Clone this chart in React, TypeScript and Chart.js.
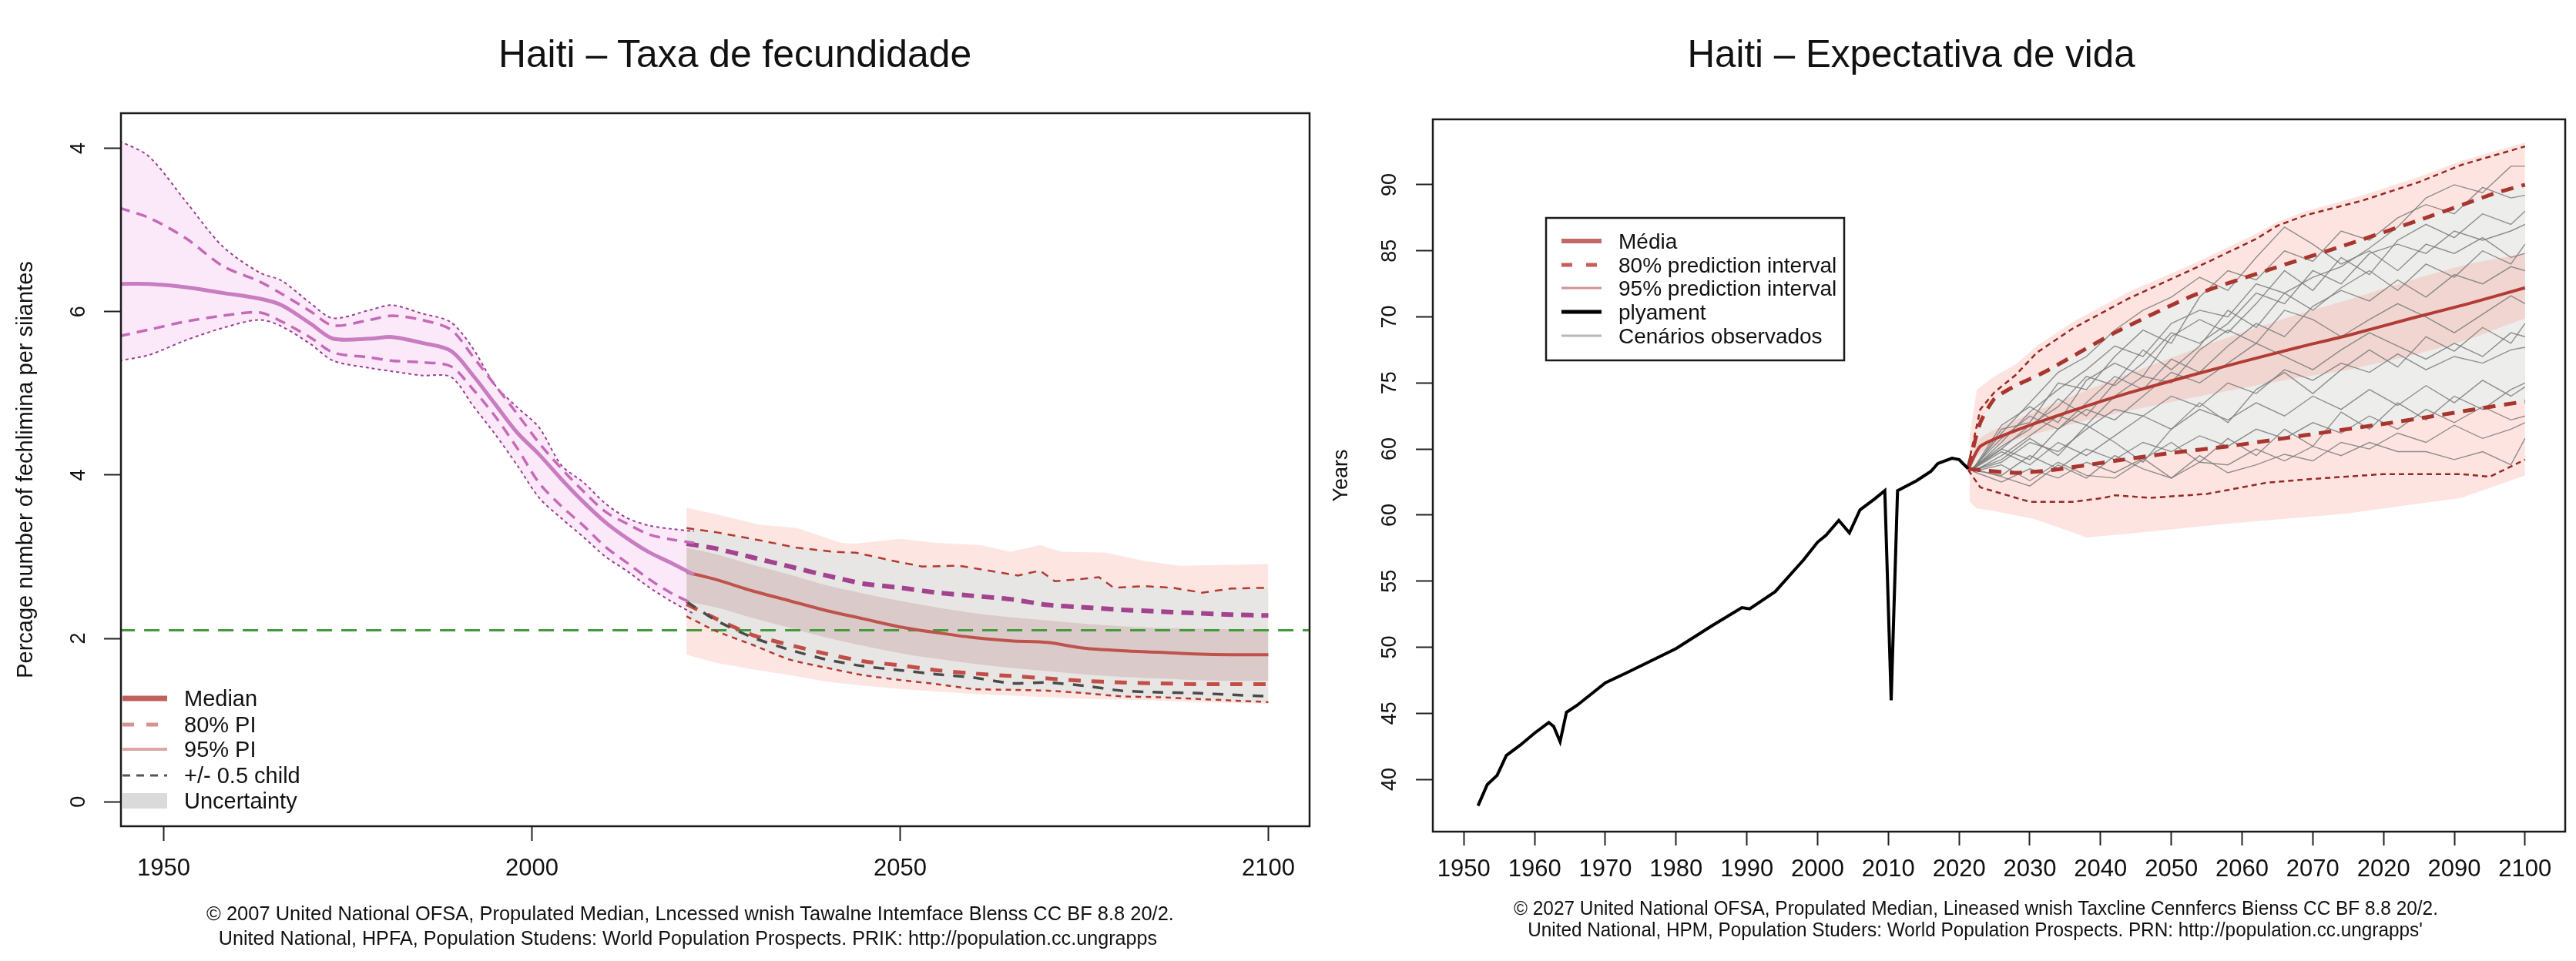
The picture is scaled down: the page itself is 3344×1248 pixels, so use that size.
import React, { useEffect, useLayoutEffect, useRef } from "react";
import { Chart, registerables } from "chart.js";

Chart.register(...registerables);

const FONT = "'Liberation Sans', Arial, Helvetica, sans-serif";

// ================= Left chart: fertility =================
const fertTitle = "Haiti – Taxa de fecundidade";
const fertYTitle = "Percage number of fechlimina per siiantes";
const fertXTicks = [1950, 2000, 2050, 2100];
const fertXTickLabels = ["1950", "2000", "2050", "2100"];
const fertYTicks = [0, 2, 4, 6, 8];
const fertYTickLabels = ["0", "2", "4", "6", "4"];
const fertLegendLabels = ["Median", "80% PI", "95% PI", "+/- 0.5 child", "Uncertainty"];
const fertFooter = [
  "© 2007 United National OFSA, Propulated Median, Lncessed wnish Tawalne Intemface Blenss CC BF 8.8 20/2.",
  "United National, HPFA, Population Studens: World Population Prospects. PRIK: http://population.cc.ungrapps",
];

const histYears = [1944, 1948, 1953, 1958, 1963, 1966, 1970, 1973, 1978, 1981, 1985, 1989, 1992, 1995, 1998, 2001, 2004, 2007, 2010, 2013, 2016, 2019, 2022];
const histMedian = [6.34, 6.34, 6.3, 6.23, 6.16, 6.08, 5.85, 5.67, 5.67, 5.69, 5.62, 5.52, 5.22, 4.87, 4.52, 4.25, 3.95, 3.67, 3.42, 3.22, 3.05, 2.92, 2.78];
const histUpper80 = [7.27, 7.15, 6.9, 6.56, 6.37, 6.22, 6.0, 5.83, 5.9, 5.95, 5.9, 5.78, 5.45, 5.1, 4.75, 4.39, 4.08, 3.8, 3.55, 3.4, 3.27, 3.21, 3.17];
const histLower80 = [5.7, 5.78, 5.88, 5.95, 5.99, 5.88, 5.68, 5.5, 5.44, 5.4, 5.38, 5.33, 5.05, 4.72, 4.33, 3.9, 3.62, 3.38, 3.12, 2.92, 2.72, 2.55, 2.42];
const histUpper95 = [8.09, 7.9, 7.35, 6.8, 6.48, 6.38, 6.1, 5.92, 6.02, 6.08, 5.98, 5.87, 5.55, 5.1, 4.83, 4.58, 4.12, 3.91, 3.65, 3.47, 3.38, 3.34, 3.31];
const histLower95 = [5.4, 5.47, 5.65, 5.8, 5.9, 5.82, 5.6, 5.4, 5.31, 5.27, 5.22, 5.2, 4.85, 4.5, 4.12, 3.72, 3.47, 3.24, 3.0, 2.82, 2.62, 2.45, 2.3];

const fcYears = [2021, 2025, 2030, 2035, 2040, 2045, 2050, 2055, 2060, 2065, 2070, 2075, 2080, 2085, 2090, 2095, 2100];
const fcMedian = [2.81, 2.72, 2.58, 2.46, 2.34, 2.24, 2.14, 2.07, 2.01, 1.97, 1.95, 1.88, 1.85, 1.83, 1.81, 1.8, 1.8];
const fcPlusHalf = [3.16, 3.1, 2.99, 2.88, 2.77, 2.67, 2.62, 2.56, 2.52, 2.48, 2.41, 2.38, 2.35, 2.33, 2.31, 2.29, 2.28];
const fcMinusHalf = [2.45, 2.22, 2.01, 1.86, 1.74, 1.66, 1.61, 1.56, 1.52, 1.45, 1.46, 1.42, 1.36, 1.34, 1.33, 1.31, 1.29];
const fcLower80 = [2.42, 2.24, 2.04, 1.92, 1.81, 1.72, 1.67, 1.61, 1.57, 1.54, 1.51, 1.48, 1.46, 1.45, 1.44, 1.44, 1.44];
const fcLower95 = [2.27, 2.09, 1.92, 1.74, 1.64, 1.55, 1.49, 1.44, 1.38, 1.37, 1.36, 1.33, 1.29, 1.28, 1.26, 1.24, 1.22];
const mauveUpper = [3.11, 3.03, 2.9, 2.78, 2.65, 2.55, 2.46, 2.38, 2.31, 2.26, 2.22, 2.18, 2.15, 2.13, 2.12, 2.11, 2.11];
const mauveLower = [2.45, 2.38, 2.25, 2.13, 2.01, 1.91, 1.82, 1.75, 1.69, 1.64, 1.6, 1.56, 1.53, 1.51, 1.49, 1.48, 1.48];
const pinkFcLower = [1.8, 1.7, 1.62, 1.55, 1.47, 1.42, 1.38, 1.35, 1.32, 1.3, 1.28, 1.26, 1.25, 1.24, 1.22, 1.21, 1.2];

const fcUp95Years = [2021, 2025, 2031, 2036, 2041, 2044, 2049, 2053, 2058, 2062, 2066, 2069, 2071, 2075, 2077, 2079, 2083, 2087, 2091, 2095, 2100];
const fcUpper95 = [3.35, 3.3, 3.2, 3.11, 3.06, 3.05, 2.95, 2.88, 2.89, 2.83, 2.77, 2.83, 2.7, 2.73, 2.75, 2.62, 2.64, 2.62, 2.56, 2.61, 2.62];
const pinkUpYears = [2021, 2025, 2031, 2036, 2042, 2044, 2047, 2050, 2055, 2061, 2065, 2069, 2072, 2078, 2083, 2088, 2100];
const pinkFcUpper = [3.6, 3.52, 3.39, 3.35, 3.17, 3.16, 3.19, 3.22, 3.17, 3.14, 3.06, 3.14, 3.06, 3.05, 2.95, 2.89, 2.91];

const replacementYears = [1944, 2106];
const replacementLevel = [2.1, 2.1];

// ================= Right chart: life expectancy =================
const lifeTitle = "Haiti – Expectativa de vida";
const lifeYTitle = "Years";
const lifeXTicks = [1950, 1960, 1970, 1980, 1990, 2000, 2010, 2020, 2030, 2040, 2050, 2060, 2070, 2080, 2090, 2100];
const lifeXTickLabels = ["1950", "1960", "1970", "1980", "1990", "2000", "2010", "2020", "2030", "2040", "2050", "2060", "2070", "2020", "2090", "2100"];
const lifeYTicks = [40, 45, 50, 55, 60, 65, 70, 75, 80, 85];
const lifeYTickLabels = ["40", "45", "50", "55", "60", "60", "75", "70", "85", "90"];
const lifeLegendLabels = ["Média", "80% prediction interval", "95% prediction interval", "plyament", "Cenários observados"];
const lifeFooter = [
  "© 2027 United National OFSA, Propulated Median, Lineased wnish Taxcline Cennfercs Bienss CC BF 8.8 20/2.",
  "United National, HPM, Population Studers: World Population Prospects. PRN: http://population.cc.ungrapps'",
];

const histLifeYears = [1952, 1953.3, 1954.7, 1956, 1958, 1960, 1962, 1962.7, 1963.6, 1964.5, 1966, 1970, 1973, 1980, 1985, 1989.3, 1990.4, 1994, 1997, 1998, 2000, 2001.2, 2003, 2004.5, 2006, 2008, 2009.5, 2010.4, 2011.3, 2014, 2016, 2017, 2019, 2020, 2021.3];
const histLife = [38.0, 39.6, 40.3, 41.8, 42.6, 43.5, 44.3, 44.0, 42.85, 45.07, 45.6, 47.3, 48.06, 49.9, 51.6, 53.0, 52.9, 54.2, 56.0, 56.6, 57.95, 58.47, 59.6, 58.65, 60.4, 61.2, 61.85, 45.98, 61.85, 62.6, 63.3, 63.9, 64.3, 64.2, 63.5];

const lifeMedYears = [2021.3, 2023, 2028, 2036, 2044, 2053, 2060, 2068, 2075, 2084, 2092, 2100];
const lifeMedian = [63.5, 65.2, 66.4, 67.9, 69.25, 70.6, 71.6, 72.7, 73.6, 74.9, 76.0, 77.2];
const innerUpper = [63.8, 65.8, 67.2, 69.0, 70.7, 72.5, 73.8, 75.2, 76.3, 77.8, 79.0, 79.8];
const innerLower = [63.3, 64.7, 65.7, 66.9, 67.9, 68.9, 69.6, 70.4, 71.0, 72.1, 73.3, 74.9];

const lifeUp80Years = [2021.3, 2023, 2025, 2028, 2032, 2042, 2053, 2064, 2075, 2086, 2096, 2100];
const lifeUpper80 = [63.6, 67.0, 68.8, 69.8, 70.8, 73.8, 76.6, 78.6, 80.5, 82.5, 84.4, 85.0];
const lifeLo80Years = [2021.3, 2023, 2028, 2033, 2042, 2050, 2058, 2069, 2080, 2086, 2094, 2100];
const lifeLower80 = [63.5, 63.4, 63.2, 63.4, 64.1, 64.7, 65.2, 66.05, 66.9, 67.4, 68.1, 68.6];
const lifeUp95Years = [2021.3, 2023, 2025, 2028, 2031, 2036, 2044, 2053, 2062, 2065, 2069, 2077, 2085, 2091, 2100];
const lifeUpper95 = [63.8, 68.0, 69.3, 70.6, 72.3, 74.1, 76.4, 78.6, 80.9, 81.9, 82.7, 83.8, 85.2, 86.5, 87.9];
const lifeLo95Years = [2021.3, 2023, 2030, 2036, 2040.5, 2042, 2047, 2055, 2063.5, 2069, 2080, 2091, 2095, 2100];
const lifeLower95 = [63.4, 62.1, 61.0, 61.0, 61.3, 61.5, 61.3, 61.6, 62.45, 62.7, 63.1, 63.1, 62.9, 64.2];

const pinkUpYearsR = [2021.5, 2022.5, 2025, 2028, 2031, 2036, 2044, 2053, 2062, 2065, 2069, 2077, 2085, 2091, 2100];
const pinkUpperR = [66.0, 69.5, 70.5, 71.4, 72.8, 74.6, 76.9, 79.0, 81.3, 82.2, 83.0, 84.2, 85.6, 86.8, 88.2];
const pinkLoYearsR = [2021.5, 2022.5, 2025, 2030.6, 2036, 2038, 2044, 2058, 2074.5, 2091, 2100];
const pinkLowerR = [61.0, 60.5, 60.3, 59.7, 58.7, 58.3, 58.6, 59.35, 60.1, 61.3, 63.0];

const scenYears = [2022, 2026, 2030, 2034, 2038, 2042, 2046, 2050, 2054, 2058, 2062, 2066, 2070, 2074, 2078, 2082, 2086, 2090, 2094, 2098, 2100];
const scen1 = [63.5, 65.5, 67.8, 69.5, 71.0, 72.8, 72.0, 74.5, 75.5, 75.0, 77.5, 76.8, 78.0, 78.8, 80.2, 81.8, 84.0, 85.0, 84.4, 86.4, 86.4];
const scen2 = [63.4, 66.5, 67.0, 70.0, 69.5, 72.0, 74.0, 73.0, 76.5, 78.5, 77.8, 80.0, 79.2, 81.5, 80.8, 82.5, 83.5, 82.8, 84.8, 84.0, 84.2];
const scen3 = [63.6, 65.0, 66.8, 68.2, 70.5, 69.8, 71.5, 73.8, 73.0, 74.5, 76.8, 76.0, 78.5, 77.5, 79.8, 80.5, 79.8, 81.5, 80.8, 81.5, 82.0];
const scen4 = [63.5, 66.2, 68.5, 70.8, 72.0, 74.0, 75.5, 76.5, 78.0, 77.0, 79.5, 81.8, 80.5, 79.0, 80.0, 78.5, 80.5, 79.8, 81.0, 79.5, 79.8];
const scen5 = [63.3, 64.5, 66.0, 67.5, 66.8, 69.0, 70.5, 70.0, 72.5, 74.0, 73.0, 75.5, 74.8, 73.5, 74.8, 76.0, 75.0, 73.8, 75.2, 76.6, 76.0];
const scen6 = [63.5, 65.0, 64.2, 66.5, 68.0, 67.2, 69.0, 70.8, 70.0, 71.5, 73.0, 72.0, 71.0, 72.5, 73.8, 72.8, 71.8, 73.0, 72.0, 73.8, 73.5];
const scen7 = [63.4, 64.0, 65.5, 64.8, 66.5, 68.0, 67.5, 69.0, 68.2, 70.0, 69.2, 71.0, 70.2, 71.5, 70.8, 72.2, 71.0, 72.0, 71.5, 72.5, 72.7];
const scen8 = [63.5, 64.8, 63.8, 65.5, 64.5, 66.0, 67.5, 66.5, 68.0, 67.2, 68.5, 67.5, 69.0, 68.0, 69.5, 68.3, 69.8, 68.5, 70.2, 69.0, 69.7];
const scen9 = [63.4, 63.0, 64.5, 63.5, 65.0, 64.2, 65.5, 64.8, 66.0, 65.2, 66.5, 65.8, 67.0, 66.2, 67.5, 66.5, 68.0, 67.0, 68.2, 67.2, 67.5];
const scen10 = [63.3, 62.5, 63.5, 62.8, 64.0, 63.2, 64.3, 62.8, 64.0, 63.8, 65.0, 64.1, 65.2, 64.5, 65.5, 64.8, 64.8, 64.2, 64.8, 63.8, 65.8];
const scen11 = [63.5, 62.9, 62.2, 63.8, 62.8, 64.5, 63.5, 62.8, 64.5, 63.2, 63.8, 64.6, 64.1, 65.5, 65.0, 66.2, 65.5, 66.8, 65.8, 66.5, 67.0];
const scen12 = [63.6, 65.8, 67.5, 66.5, 68.5, 70.5, 69.5, 71.8, 70.8, 72.8, 74.5, 73.5, 75.8, 77.0, 76.2, 77.8, 76.5, 78.2, 77.5, 78.8, 78.5];
const scen13 = [63.4, 64.2, 65.8, 64.5, 66.8, 65.5, 64.0, 66.5, 68.5, 67.0, 69.5, 70.8, 69.2, 71.0, 72.5, 71.2, 73.5, 72.4, 74.2, 73.0, 74.5];
const scen14 = [63.5, 66.8, 68.2, 67.0, 70.2, 71.5, 70.5, 73.5, 74.8, 73.8, 76.0, 78.5, 77.0, 79.5, 78.2, 80.8, 82.0, 81.0, 82.8, 82.0, 83.0];
const scen15 = [63.3, 63.8, 62.6, 64.0, 63.0, 62.8, 64.2, 65.5, 64.0, 65.8, 64.5, 66.5, 65.2, 67.8, 66.5, 68.5, 67.2, 69.0, 68.0, 69.5, 70.0];
const scen16 = [63.6, 65.2, 66.5, 68.8, 67.5, 70.0, 72.5, 71.0, 72.8, 75.5, 74.2, 76.8, 75.5, 77.2, 78.5, 77.0, 79.0, 78.0, 80.0, 79.0, 80.5];
const scenarios = [scen1, scen2, scen3, scen4, scen5, scen6, scen7, scen8, scen9, scen10, scen11, scen12, scen13, scen14, scen15, scen16];

// ================= helpers =================
const pts = (xs: number[], ys: number[]) => xs.map((x, i) => ({ x, y: ys[i] }));

function line(data: any[], color: string, width: number, dash: number[] = [], tension = 0) {
  return { data, borderColor: color, backgroundColor: color, borderWidth: width, borderDash: dash, pointRadius: 0, pointHoverRadius: 0, fill: false, tension };
}
function band(data: any[], color: string, tension = 0) {
  return { data, borderColor: "rgba(0,0,0,0)", borderWidth: 0, pointRadius: 0, pointHoverRadius: 0, fill: "+1", backgroundColor: color, tension };
}
function bandBase(data: any[], tension = 0) {
  return { data, borderColor: "rgba(0,0,0,0)", borderWidth: 0, pointRadius: 0, pointHoverRadius: 0, fill: false, tension };
}

const framePlugin = {
  id: "frameBox",
  afterDatasetsDraw(chart: any) {
    const { ctx, chartArea: a } = chart;
    ctx.save();
    ctx.strokeStyle = "#1a1a1a";
    ctx.lineWidth = 2.5;
    ctx.strokeRect(a.left, a.top, a.right - a.left, a.bottom - a.top);
    ctx.restore();
  },
};

function legendPlugin(spec: any) {
  return {
    id: "customLegend",
    afterDraw(chart: any) {
      const ctx = chart.ctx;
      ctx.save();
      if (spec.box) {
        ctx.strokeStyle = "#1a1a1a";
        ctx.lineWidth = 2.5;
        ctx.strokeRect(spec.box[0], spec.box[1], spec.box[2] - spec.box[0], spec.box[3] - spec.box[1]);
      }
      ctx.font = `${spec.size}px ${FONT}`;
      ctx.textBaseline = "alphabetic";
      ctx.textAlign = "left";
      spec.items.forEach((it: any, i: number) => {
        const y = spec.ys[i];
        if (it.rect) {
          ctx.fillStyle = it.color;
          ctx.fillRect(spec.x0, y - 10, spec.x1 - spec.x0, 20);
        } else {
          ctx.strokeStyle = it.color;
          ctx.lineWidth = it.width;
          ctx.setLineDash(it.dash || []);
          ctx.beginPath();
          ctx.moveTo(spec.x0, y);
          ctx.lineTo(spec.x1, y);
          ctx.stroke();
          ctx.setLineDash([]);
        }
        ctx.fillStyle = "#111";
        ctx.fillText(spec.labels[i], spec.tx, y + spec.size * 0.36);
      });
      ctx.restore();
    },
  };
}

function axisX(min: number, max: number, ticks: number[], labels: string[], tickLen: number, pad: number) {
  return {
    type: "linear",
    min,
    max,
    afterBuildTicks: (s: any) => {
      s.ticks = ticks.map((v) => ({ value: v }));
    },
    afterFit: (s: any) => {
      s.height = 100;
    },
    ticks: {
      callback: (v: number) => labels[ticks.indexOf(v)],
      font: { family: FONT, size: 31 },
      color: "#111",
      padding: pad,
      maxRotation: 0,
      minRotation: 0,
      autoSkip: false,
    },
    grid: { display: true, drawOnChartArea: false, drawTicks: true, tickLength: tickLen, tickWidth: 2, tickColor: "#222", color: "#222" },
    border: { display: false },
  };
}

function axisY(min: number, max: number, ticks: number[], labels: string[], width: number, pad: number, title: string, titleSize: number, titlePad: number, tickSize: number) {
  return {
    type: "linear",
    min,
    max,
    afterBuildTicks: (s: any) => {
      s.ticks = ticks.map((v) => ({ value: v }));
    },
    afterFit: (s: any) => {
      s.width = width;
    },
    ticks: {
      callback: (v: number) => labels[ticks.indexOf(v)],
      font: { family: FONT, size: tickSize },
      color: "#111",
      padding: pad,
      minRotation: 90,
      maxRotation: 90,
      crossAlign: "center",
      autoSkip: false,
    },
    grid: { display: true, drawOnChartArea: false, drawTicks: true, tickLength: 22, tickWidth: 2, tickColor: "#222", color: "#222" },
    border: { display: false },
    title: { display: true, text: title, font: { family: FONT, size: titleSize }, color: "#111", padding: { top: titlePad, bottom: 0 } },
  };
}

function fertConfig(): any {
  const datasets = [
    line(pts(histYears, histMedian), "#c77dbf", 5, [], 0.3),
    line(pts(histYears, histUpper80), "#c46ab7", 3.5, [14, 9], 0.3),
    line(pts(histYears, histLower80), "#c46ab7", 3.5, [14, 9], 0.3),
    line(pts(histYears, histUpper95), "#9c3f8e", 2, [4, 4], 0.3),
    line(pts(histYears, histLower95), "#9c3f8e", 2, [4, 4], 0.3),
    line(pts(fcYears, fcMedian), "#c0524c", 4, [], 0.3),
    line(pts(fcYears, fcPlusHalf), "#a3428f", 6, [16, 10], 0.2),
    line(pts(fcYears, fcMinusHalf), "#4a4a4a", 3.5, [14, 12], 0.2),
    line(pts(fcYears, fcLower80), "#c24e48", 5, [16, 14], 0.2),
    line(pts(fcUp95Years, fcUpper95), "#b33a33", 2.5, [10, 8], 0),
    line(pts(fcYears, fcLower95), "#b33a33", 2.5, [7, 6], 0.2),
    line(pts(replacementYears, replacementLevel), "#449a3c", 3, [20, 12]),
    band(pts(fcYears, mauveUpper), "#dacac9", 0.3),
    bandBase(pts(fcYears, mauveLower), 0.3),
    band(pts(fcUp95Years, fcUpper95), "#e7e6e4"),
    bandBase(pts(fcYears, fcLower95), 0.2),
    band(pts(pinkUpYears, pinkFcUpper), "#fde6e2"),
    bandBase(pts(fcYears, pinkFcLower)),
    band(pts(histYears, histUpper95), "#fbe9fa", 0.3),
    bandBase(pts(histYears, histLower95), 0.3),
  ];
  return {
    type: "line",
    data: { datasets },
    options: {
      animation: false,
      responsive: false,
      devicePixelRatio: 1,
      events: [],
      layout: { padding: { top: 147, right: 10, bottom: 75, left: 0 } },
      plugins: { legend: { display: false }, tooltip: { enabled: false } },
      scales: {
        x: axisX(1944.2, 2105.6, fertXTicks, fertXTickLabels, 19, 18),
        y: axisY(-0.3, 8.43, fertYTicks, fertYTickLabels, 157, 25, fertYTitle, 29, 16.6, 27),
      },
    },
    plugins: [
      framePlugin,
      legendPlugin({
        x0: 159,
        x1: 217,
        tx: 239,
        size: 29,
        ys: [907, 941, 973, 1007, 1040],
        labels: fertLegendLabels,
        items: [
          { color: "#c0605e", width: 7 },
          { color: "#d49292", width: 5, dash: [15, 16] },
          { color: "#e0a6a6", width: 4 },
          { color: "#555555", width: 3, dash: [10, 8] },
          { color: "#dadada", rect: true },
        ],
      }),
    ],
  };
}

function lifeConfig(): any {
  const datasets: any[] = [
    line(pts(histLifeYears, histLife), "#000000", 4),
    line(pts(lifeMedYears, lifeMedian), "#b23c35", 4, [], 0.2),
    line(pts(lifeUp80Years, lifeUpper80), "#a8362f", 5, [16, 11], 0.2),
    line(pts(lifeLo80Years, lifeLower80), "#a8362f", 5, [16, 11], 0.2),
    line(pts(lifeUp95Years, lifeUpper95), "#962a26", 2.5, [7, 5]),
    line(pts(lifeLo95Years, lifeLower95), "#962a26", 2.5, [7, 5]),
    ...scenarios.map((s) => line(pts(scenYears, s), "rgba(125,125,125,0.85)", 1.4)),
    band(pts(lifeMedYears, innerUpper), "rgba(245,185,175,0.45)", 0.2),
    bandBase(pts(lifeMedYears, innerLower), 0.2),
    band(pts(lifeUp80Years, lifeUpper80), "#ededec", 0.2),
    bandBase(pts(lifeLo80Years, lifeLower80), 0.2),
    band(pts(pinkUpYearsR, pinkUpperR), "#fde4e0"),
    bandBase(pts(pinkLoYearsR, pinkLowerR)),
  ];
  return {
    type: "line",
    data: { datasets },
    options: {
      animation: false,
      responsive: false,
      devicePixelRatio: 1,
      events: [],
      layout: { padding: { top: 155, right: 14, bottom: 68, left: 0 } },
      plugins: { legend: { display: false }, tooltip: { enabled: false } },
      scales: {
        x: axisX(1945.61, 2105.68, lifeXTicks, lifeXTickLabels, 18, 12.4),
        y: axisY(36.04, 89.95, lifeYTicks, lifeYTickLabels, 150, 18.5, lifeYTitle, 27, 15.8, 27),
      },
    },
    plugins: [
      framePlugin,
      legendPlugin({
        box: [297, 283, 684, 468],
        x0: 317,
        x1: 369,
        tx: 391,
        size: 28,
        ys: [313, 344, 374, 405, 436],
        labels: lifeLegendLabels,
        items: [
          { color: "#c06a68", width: 6 },
          { color: "#c65e5a", width: 5, dash: [14, 18] },
          { color: "#d49090", width: 3 },
          { color: "#000000", width: 5 },
          { color: "#b8b8b8", width: 3 },
        ],
      }),
    ],
  };
}

function ChartCanvas({ left, width, makeConfig }: { left: number; width: number; makeConfig: () => any }) {
  const ref = useRef<HTMLCanvasElement>(null);
  useEffect(() => {
    const chart = new Chart(ref.current as HTMLCanvasElement, makeConfig());
    return () => chart.destroy();
  }, []);
  return <canvas ref={ref} width={width} height={1248} style={{ position: "absolute", left, top: 0, width, height: 1248 }} />;
}

function FitLine({ text, cx, cy, width, size }: { text: string; cx: number; cy: number; width: number; size: number }) {
  const ref = useRef<HTMLSpanElement>(null);
  useLayoutEffect(() => {
    const el = ref.current;
    if (!el) return;
    const w = el.offsetWidth;
    const s = w > 0 ? width / w : 1;
    el.style.transform = `translate(-50%, -50%) scaleX(${s})`;
  }, [text, width]);
  return (
    <span
      ref={ref}
      style={{
        position: "absolute",
        left: cx,
        top: cy,
        whiteSpace: "nowrap",
        fontFamily: FONT,
        fontSize: size,
        lineHeight: 1,
        color: "#111",
        transformOrigin: "center center",
        transform: "translate(-50%, -50%)",
      }}
    >
      {text}
    </span>
  );
}

export default function App() {
  return (
    <div style={{ position: "absolute", left: 0, top: 0, width: 3344, height: 1248, background: "#ffffff", overflow: "hidden" }}>
      <ChartCanvas left={0} width={1710} makeConfig={fertConfig} />
      <ChartCanvas left={1710} width={1634} makeConfig={lifeConfig} />
      <FitLine text={fertTitle} cx={954} cy={70} width={614} size={50} />
      <FitLine text={lifeTitle} cx={2481} cy={70} width={581} size={50} />
      <FitLine text={fertFooter[0]} cx={896} cy={1186} width={1256} size={26} />
      <FitLine text={fertFooter[1]} cx={893} cy={1218} width={1218} size={26} />
      <FitLine text={lifeFooter[0]} cx={2565} cy={1179} width={1200} size={26} />
      <FitLine text={lifeFooter[1]} cx={2564} cy={1207} width={1162} size={26} />
    </div>
  );
}
